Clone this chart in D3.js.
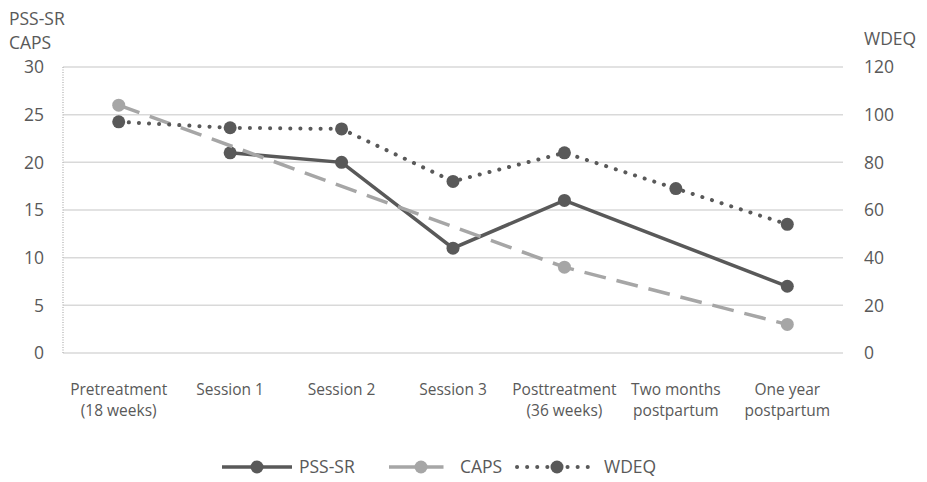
<!DOCTYPE html>
<html>
<head>
<meta charset="utf-8">
<script src="https://cdn.jsdelivr.net/npm/d3@7"></script>
<style>
  body { margin: 0; background: #fff; }
  text { font-family: "Open Sans", Lato, sans-serif; fill: #595959; }
</style>
</head>
<body>
<div id="chart"></div>
<script>
// categories on the x axis (each label has two lines)
const categories = [
  ["Pretreatment", "(18 weeks)"],
  ["Session 1"],
  ["Session 2"],
  ["Session 3"],
  ["Posttreatment", "(36 weeks)"],
  ["Two months", "postpartum"],
  ["One year", "postpartum"]
]
// null = not measured at that point, the line just spans over it
const pssValues = [null, 21, 20, 11, 16, null, 7]
const capsValues = [26, null, null, null, 9, null, 3]
const wdeqValues = [97, 94.5, 94, 72, 84, 69, 54]
const leftTicks = [0, 5, 10, 15, 20, 25, 30]
const rightTicks = [0, 20, 40, 60, 80, 100, 120]

const width = 927, height = 482
const margin = { top: 67, right: 84, bottom: 129, left: 63 }

const svg = d3.select("#chart").append("svg")
  .attr("width", width)
  .attr("height", height)

const x = d3.scaleBand()
  .domain(d3.range(categories.length))
  .range([margin.left, width - margin.right])
const yLeft = d3.scaleLinear([0, 30], [height - margin.bottom, margin.top])
const yRight = d3.scaleLinear([0, 120], [height - margin.bottom, margin.top])
const cx = i => x(i) + x.bandwidth() / 2

//gridlines
svg.append("g").selectAll("line")
  .data(leftTicks)
  .join("line")
  .attr("x1", margin.left)
  .attr("x2", width - margin.right)
  .attr("y1", d => yLeft(d))
  .attr("y2", d => yLeft(d))
  .attr("stroke", "#d9d9d9")
  .attr("stroke-width", 1.5)

//dotted left axis line
svg.append("line")
  .attr("x1", margin.left).attr("x2", margin.left)
  .attr("y1", yLeft(30)).attr("y2", yLeft(0))
  .attr("stroke", "#bfbfbf")
  .attr("stroke-width", 1.5)
  .attr("stroke-dasharray", "1,1.5")

//left tick labels
svg.append("g").selectAll("text")
  .data(leftTicks)
  .join("text")
  .attr("x", 44)
  .attr("y", d => yLeft(d))
  .attr("dy", "0.36em")
  .attr("text-anchor", "end")
  .attr("font-size", 17.5)
  .text(d => d)

//right tick labels
svg.append("g").selectAll("text")
  .data(rightTicks)
  .join("text")
  .attr("x", 864)
  .attr("y", d => yRight(d))
  .attr("dy", "0.36em")
  .attr("font-size", 17.5)
  .text(d => d)

//axis titles
svg.append("text").attr("x", 9).attr("y", 25).attr("font-size", 17.5).text("PSS-SR")
svg.append("text").attr("x", 9).attr("y", 49).attr("font-size", 17.5).text("CAPS")
svg.append("text").attr("x", 864).attr("y", 45).attr("font-size", 17.5).text("WDEQ")

//category labels
const catG = svg.append("g").selectAll("text")
  .data(categories)
  .join("text")
  .attr("text-anchor", "middle")
  .attr("font-size", 15.5)
  .attr("x", (d, i) => cx(i))
  .attr("y", 395)
catG.selectAll("tspan")
  .data(d => d)
  .join("tspan")
  .attr("x", function () { return this.parentNode.getAttribute("x") })
  .attr("dy", (d, i) => i === 0 ? 0 : 21)
  .text(d => d)

const series = [
  { name: "PSS-SR", values: pssValues, y: yLeft, color: "#595959", dash: null, cap: "butt" },
  { name: "CAPS", values: capsValues, y: yLeft, color: "#a6a6a6", dash: "22,11", cap: "butt" },
  { name: "WDEQ", values: wdeqValues, y: yRight, color: "#595959", dash: "0.1,10", cap: "round" }
]

series.forEach(s => {
  const pts = s.values.map((v, i) => ({ i: i, v: v })).filter(p => p.v !== null)
  const line = d3.line().x(p => cx(p.i)).y(p => s.y(p.v))
  svg.append("path")
    .attr("d", line(pts))
    .attr("fill", "none")
    .attr("stroke", s.color)
    .attr("stroke-width", s.name === "WDEQ" ? 4 : 3.5)
    .attr("stroke-dasharray", s.dash)
    .attr("stroke-linecap", s.cap)
  svg.append("g").selectAll("circle")
    .data(pts)
    .join("circle")
    .attr("cx", p => cx(p.i))
    .attr("cy", p => s.y(p.v))
    .attr("r", 6.5)
    .attr("fill", s.color)
})

//legend
const legendItems = [
  { name: "PSS-SR", x: 222, w: 70, color: "#595959", dash: null, cap: "butt", sw: 3.5 },
  { name: "CAPS", x: 389, w: 64, color: "#a6a6a6", dash: "26,2.5,26", cap: "butt", sw: 3.5 },
  { name: "WDEQ", x: 517, w: 80, color: "#595959", dash: "0.1,10", cap: "round", sw: 4 }
]
const ly = 467
legendItems.forEach(l => {
  svg.append("line")
    .attr("x1", l.x).attr("x2", l.x + l.w)
    .attr("y1", ly).attr("y2", ly)
    .attr("stroke", l.color)
    .attr("stroke-width", l.sw)
    .attr("stroke-dasharray", l.dash)
    .attr("stroke-linecap", l.cap)
  svg.append("circle")
    .attr("cx", l.x + l.w / 2).attr("cy", ly).attr("r", 6.5)
    .attr("fill", l.color)
  svg.append("text")
    .attr("x", l.x + l.w + 7).attr("y", ly)
    .attr("dy", "0.36em")
    .attr("font-size", 17.5)
    .text(l.name)
})
</script>
</body>
</html>
